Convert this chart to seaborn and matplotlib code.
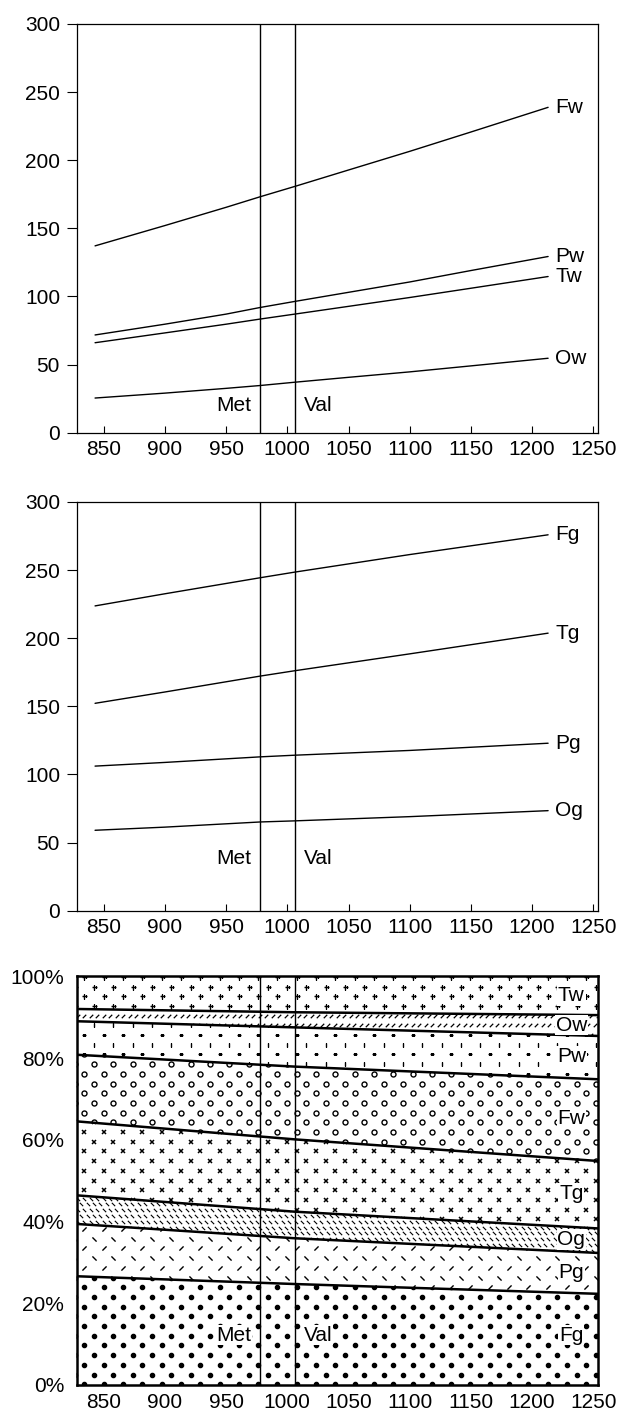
import numpy as np
import pandas as pd
import matplotlib.pyplot as plt
from matplotlib.path import Path
import seaborn as sns

# ---- data ----
x_ticks = [850, 900, 950, 1000, 1050, 1100, 1150, 1200, 1250]
y_ticks = [0, 50, 100, 150, 200, 250, 300]
pct_ticks = [0, 20, 40, 60, 80, 100]
met_x, val_x = 978, 1006

# panel 1 (w series)
x_w = [843, 900, 950, 978, 1006, 1050, 1100, 1150, 1213]
fw = [137.1, 152.0, 165.4, 173.2, 180.7, 192.8, 206.5, 220.7, 238.8]
pw = [71.7, 79.6, 87.0, 91.9, 96.3, 103.0, 110.6, 119.0, 129.3]
tw = [66.0, 73.2, 79.6, 83.4, 87.0, 92.7, 99.2, 106.0, 114.6]
ow = [25.4, 29.0, 32.5, 34.6, 37.0, 40.6, 44.6, 49.0, 54.6]

# panel 2 (g series)
x_g = [843, 900, 978, 1006, 1100, 1213]
fg = [223.7, 232.6, 244.4, 248.5, 261.4, 275.9]
tg = [152.2, 160.5, 172.2, 176.1, 188.5, 203.7]
pg = [106.1, 108.8, 112.9, 114.1, 117.6, 122.9]
og = [59.0, 61.3, 65.1, 65.9, 69.0, 73.4]

# panel 3 (percentage shares, bottom to top)
x_pct = [828, 1006, 1254]
share_names = ['Fg', 'Pg', 'Og', 'Tg', 'Fw', 'Pw', 'Ow', 'Tw']
share_fg = [26.6, 24.7, 22.3]
share_pg = [12.8, 11.2, 10.0]
share_og = [7.0, 6.5, 6.0]
share_tg = [18.1, 17.7, 16.5]
share_fw = [16.3, 17.8, 20.0]
share_pw = [8.2, 9.6, 10.6]
share_ow = [3.0, 3.7, 5.1]
share_tw = [8.0, 8.8, 9.5]

sns.set_style("ticks")
plt.rcParams['font.family'] = ['Liberation Sans', 'DejaVu Sans']
plt.rcParams['text.color'] = 'black'
FS = 15

fig = plt.figure(figsize=(6.17, 14.18), dpi=100)
L, W_, H_ = 0.1243, 0.8454, 0.2882
ax1 = fig.add_axes([L, 0.6949, W_, H_])
ax2 = fig.add_axes([L, 0.3578, W_, H_])
ax3 = fig.add_axes([L, 0.0233, W_, H_])


def line_panel(ax, xs, series, names, text_y):
    for vals, name in zip(series, names):
        sns.lineplot(x=xs, y=vals, color='black', linewidth=1.0, ax=ax)
        ax.text(1219, vals[-1], name, ha='left', va='center', fontsize=FS)
    ax.axvline(met_x, color='black', lw=1.0)
    ax.axvline(val_x, color='black', lw=1.0)
    ax.text(met_x - 7.5, text_y, 'Met', ha='right', va='center', fontsize=FS)
    ax.text(val_x + 7.5, text_y, 'Val', ha='left', va='center', fontsize=FS)
    ax.set_xlim(828, 1254)
    ax.set_ylim(0, 300)
    ax.set_xticks(x_ticks)
    ax.set_yticks(y_ticks)
    ax.tick_params(axis='y', direction='out', length=7, width=0.8, pad=5,
                   labelsize=FS, colors='black')
    ax.tick_params(axis='x', direction='in', length=5, width=0.8, pad=5,
                   labelsize=FS, colors='black')
    for s in ax.spines.values():
        s.set_linewidth(0.9)
        s.set_color('black')
    ax.set_xlabel('')
    ax.set_ylabel('')


line_panel(ax1, x_w, [fw, pw, tw, ow], ['Fw', 'Pw', 'Tw', 'Ow'], 20)
line_panel(ax2, x_g, [fg, tg, pg, og], ['Fg', 'Tg', 'Pg', 'Og'], 38)

# ---- panel 3: stacked percentages with textures ----
slash = Path([(-1, -1), (1, 1)], [Path.MOVETO, Path.LINETO])
bslash = Path([(-1, 1), (1, -1)], [Path.MOVETO, Path.LINETO])


def texture(ax, poly, markers, dx=19.3, dy=9.7, ms=2.5, mew=1.0, filled=False):
    bb = ax.get_window_extent()
    Wp, Hp = bb.width, bb.height
    clip = poly.get_paths()[0]
    for i, yy in enumerate(np.arange(0.7, Hp + dy, dy)):
        m = markers[i % len(markers)]
        xs = np.arange(7.8 + (dx / 2) * (i % 2) - dx, Wp + dx, dx)
        ln, = ax.plot(xs / Wp, np.full_like(xs, yy / Hp), transform=ax.transAxes,
                      ls='none', marker=m, ms=ms, mec='black',
                      mfc='black' if filled else 'none', mew=mew, zorder=2)
        ln.set_clip_path(clip, ax.transData)


shares = np.array([share_fg, share_pg, share_og, share_tg,
                   share_fw, share_pw, share_ow, share_tw])
tops = np.cumsum(shares, axis=0)
bottoms = np.vstack([np.zeros(len(x_pct)), tops[:-1]])

styles = {
    'Fg': dict(markers=['o'], ms=3.0, filled=True),
    'Pg': dict(markers=[slash, bslash], ms=3.0),
    'Og': dict(markers=[bslash], dx=6.4, dy=5.8, ms=2.4, mew=0.8),
    'Tg': dict(markers=['x'], ms=2.8, mew=1.1),
    'Fw': dict(markers=['o'], ms=3.6, mew=1.0),
    'Pw': dict(markers=['_', '|'], ms=3.5, mew=1.0),
    'Ow': dict(markers=[slash], dx=6.5, dy=9.7, ms=2.5, mew=0.9),
    'Tw': dict(markers=['+'], ms=3.6, mew=1.0),
}

for name, lo, hi in zip(share_names, bottoms, tops):
    poly = ax3.fill_between(x_pct, lo, hi, facecolor='white', edgecolor='none', zorder=1)
    texture(ax3, poly, **styles[name])
    if name != 'Tw':
        ax3.plot(x_pct, hi, color='black', lw=1.8, zorder=3)
    ylab = (np.interp(1232, x_pct, lo) + np.interp(1232, x_pct, hi)) / 2
    if name == 'Fg':
        ylab = 12.2
    ax3.text(1232, ylab, name, ha='center', va='center', fontsize=FS, zorder=5,
             bbox=dict(facecolor='white', edgecolor='none', pad=0.6))

ax3.axvline(met_x, color='black', lw=1.0, zorder=4)
ax3.axvline(val_x, color='black', lw=1.0, zorder=4)
ax3.text(met_x - 7.5, 12.2, 'Met', ha='right', va='center', fontsize=FS, zorder=5,
         bbox=dict(facecolor='white', edgecolor='none', pad=0.6))
ax3.text(val_x + 7.5, 12.2, 'Val', ha='left', va='center', fontsize=FS, zorder=5,
         bbox=dict(facecolor='white', edgecolor='none', pad=0.6))

ax3.set_xlim(828, 1254)
ax3.set_ylim(0, 100)
ax3.set_xticks(x_ticks)
ax3.set_yticks(pct_ticks)
ax3.set_yticklabels([f'{v}%' for v in pct_ticks])
ax3.tick_params(axis='both', direction='in', length=5, width=0.9, labelsize=FS,
                colors='black')
ax3.tick_params(axis='y', pad=9)
ax3.tick_params(axis='x', pad=6)
for s in ax3.spines.values():
    s.set_linewidth(1.8)
    s.set_color('black')
    s.set_zorder(6)

plt.savefig('out.png', dpi=100)
plt.close()
